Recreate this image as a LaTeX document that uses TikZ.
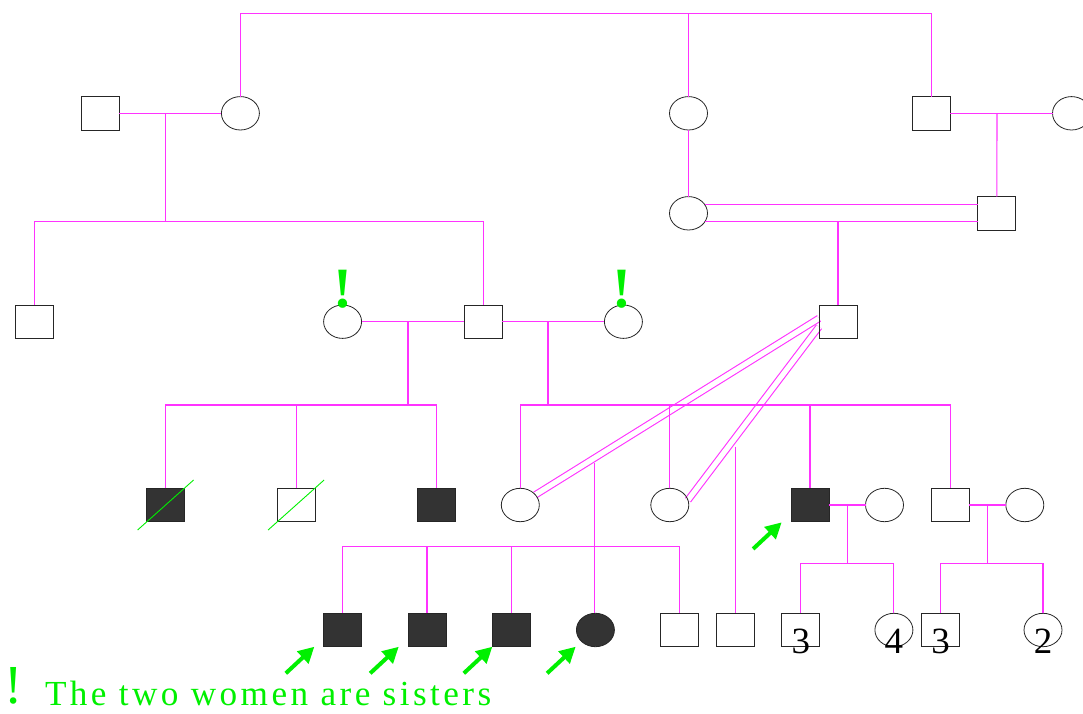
\documentclass[tikz,border=0pt]{standalone}
\usepackage{fontspec}
\setmainfont{Liberation Serif}
\newfontfamily\legendfont[LetterSpace=9.8]{Liberation Serif}
\usetikzlibrary{shapes.geometric,arrows.meta,calc}
\definecolor{mag}{HTML}{FF33FF}
\definecolor{grn}{HTML}{00F000}
\definecolor{aff}{HTML}{333333}
\pgfdeclarelayer{bg}
\pgfsetlayers{bg,main}
\tikzset{
 person/.style={draw=black!85, line width=0.8pt, minimum width=38pt, minimum height=33.4pt, inner sep=0pt, outer sep=0pt},
 sq/.style={person, rectangle},
 ci/.style={person, ellipse},
 affected/.style={fill=aff},
 rel/.style={draw=mag, line width=1.1pt},
 dbl/.style={draw=mag, line width=1.1pt, double=white, double distance=5.2pt},
 slash/.style={draw=grn, line width=0.9pt},
 pointer/.style={draw=grn, line width=4pt, -{Triangle[length=16pt,width=16pt]}},
 num/.style={font=\fontsize{37}{40}\selectfont, anchor=base, inner sep=0pt},
 exclam/.style={font=\bfseries\fontsize{57}{60}\selectfont, text=grn, anchor=base, inner sep=0pt},
}
\begin{document}
\begin{tikzpicture}[x=1pt,y=1pt]
\useasboundingbox (0,0) rectangle (1083,713);
% generation I
\node[sq] (A) at (100,599.7) {};
\node[ci] (B) at (240.4,599.7) {};
\node[ci] (C) at (688.5,599.7) {};
\node[sq] (D) at (931.3,599.7) {};
\node[ci] (E) at (1071.5,599.7) {};
% generation II
\node[ci] (I) at (688.5,499.7) {};
\node[sq] (J) at (996.8,499.7) {};
% generation III
\node[sq] (F) at (34.8,391.3) {};
\node[ci] (G) at (342.6,391.3) {};
\node[sq] (H) at (483.1,391.3) {};
\node[ci] (L) at (623.4,391.3) {};
\node[sq] (K) at (838,391.3) {};
% generation IV
\node[sq,affected] (s1) at (165.6,208) {};
\node[sq] (s2) at (296.1,208) {};
\node[sq,affected] (s3) at (436.6,208) {};
\node[ci] (M) at (520.3,208) {};
\node[ci] (N) at (669.8,208) {};
\node[sq,affected] (P) at (810,208) {};
\node[ci] (R) at (884.5,208) {};
\node[sq] (Q) at (950.3,208) {};
\node[ci] (S) at (1024.8,208) {};
% generation V
\node[sq,affected] (c1) at (342.6,83) {};
\node[sq,affected] (c2) at (427,83) {};
\node[sq,affected] (c3) at (511.4,83) {};
\node[ci,affected] (X) at (595.4,83) {};
\node[sq] (c5) at (679.6,83) {};
\node[sq] (Y) at (735.6,83) {};
\node[sq] (T) at (800.8,83) {};
\node[ci] (U) at (893.9,83) {};
\node[sq] (V) at (940.6,83) {};
\node[ci] (W) at (1043,83) {};
% numbers
\node[num] (nT) at (800.8,59.7) {3};
\node[num] (nU) at (893.9,59.7) {4};
\node[num] (nV) at (940.6,59.7) {3};
\node[num] (nW) at (1043,59.7) {2};

% consanguineous unions (under the other lines)
\begin{pgfonlayer}{bg}
\draw[dbl] (K.170) -- (M.34);
\draw[dbl] (K.195) -- (N.15);
\end{pgfonlayer}

% top sibship
\coordinate (top) at (240.4,699.7);
\draw[rel] (B.north) -- (B.north |- top) -- (D.north |- top) -- (D.north);
\draw[rel] (C.north) -- (C.north |- top);
% A x B
\draw[rel] (A) -- (B);
\coordinate (ab) at (165.3,599.7);
\coordinate (abs) at (165.3,491.7);
\draw[rel] (ab) -- (abs);
\draw[rel] (F.north) -- (F.north |- abs) -- (H.north |- abs) -- (H.north);
% C -> I
\draw[rel] (C) -- (I);
% D x E
\draw[rel] (D) -- (E);
\coordinate (de) at (997,599.7);
\draw[rel] (de) -- (J.north);
% I = J
\draw[rel] (I.27) -- (I.27 -| J.west);
\draw[rel] (I.-27) -- (I.-27 -| J.west);
\draw[rel] (K.north) -- (K.north |- I.-27);
% G x H, H x L
\draw[rel] (G) -- (H);
\draw[rel] (H) -- (L);
\coordinate (gh) at (408,391.3);
\coordinate (ghs) at (408,308);
\draw[rel] (gh) -- (ghs);
\draw[rel] (s1.north) -- (s1.north |- ghs) -- (s3.north |- ghs) -- (s3.north);
\draw[rel] (s2.north) -- (s2.north |- ghs);
\coordinate (hl) at (548,391.3);
\coordinate (hls) at (548,308);
\draw[rel] (hl) -- (hls);
\draw[rel] (M.north) -- (M.north |- hls) -- (Q.north |- hls) -- (Q.north);
\draw[rel] (N.north) -- (N.north |- hls);
\draw[rel] (P.north) -- (P.north |- hls);
% K x M children
\coordinate (km) at (594.7,249.7);
\draw[rel] (km) -- (km |- X.north);
\coordinate (kms) at (342.6,166.3);
\draw[rel] (c1.north) -- (c1.north |- kms) -- (c5.north |- kms) -- (c5.north);
\draw[rel] (c2.north) -- (c2.north |- kms);
\draw[rel] (c3.north) -- (c3.north |- kms);
% K x N child
\coordinate (kn) at (735.6,266.3);
\draw[rel] (kn) -- (Y.north);
% P x R
\draw[rel] (P) -- (R);
\coordinate (pr) at (847.5,208);
\coordinate (prs) at (847.5,149.7);
\draw[rel] (pr) -- (prs);
\draw[rel] (T.north) -- (T.north |- prs) -- (U.north |- prs) -- (U.north);
% Q x S
\draw[rel] (Q) -- (S);
\coordinate (qs) at (987.7,208);
\coordinate (qss) at (987.7,149.7);
\draw[rel] (qs) -- (qss);
\draw[rel] (V.north) -- (V.north |- qss) -- (W.north |- qss) -- (W.north);

% deceased slashes
\draw[slash] ($(s1)+(-28,-25)$) -- ($(s1)+(28,25)$);
\draw[slash] ($(s2)+(-28,-25)$) -- ($(s2)+(28,25)$);

% proband pointers
\coordinate (p1) at ($(c1.south west)+(-9.2,0)$);
\coordinate (p2) at ($(c2.south west)+(-9.2,0)$);
\coordinate (p3) at (c3.south west);
\coordinate (p4) at ($(X.south)+(-19.7,0)$);
\coordinate (p5) at ($(P.south west)+(-9.3,-0.6)$);
\foreach \p in {p1,p2,p3,p4,p5}{
  \coordinate (\p t) at ($(\p)+(-28.6,-26.6)$);
  \draw[pointer] (\p t) -- (\p);
}

% exclamation marks
\node[exclam] (xG) at (342.6,406) {!};
\node[exclam] (xL) at (622,406) {!};

% legend
\node[anchor=base west, inner sep=0pt, text=grn, font=\fontsize{55}{60}\selectfont] (lx) at (4,10) {!};
\node[anchor=base west, inner sep=0pt, text=grn, font=\legendfont\fontsize{35.2}{40}\selectfont] (lt) at (44.8,8) {The two women are sisters};
\end{tikzpicture}
\end{document}
